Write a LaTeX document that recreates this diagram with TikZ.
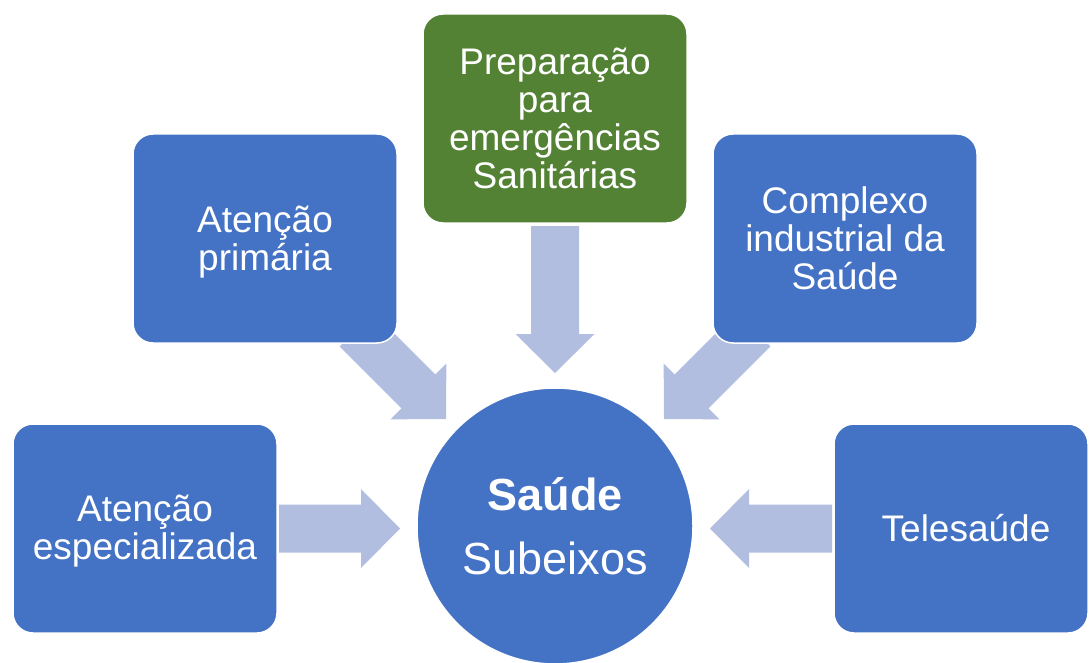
\documentclass[tikz,border=0pt]{standalone}
\usepackage{fontspec}
\setmainfont{Liberation Sans}
\usetikzlibrary{calc}
\definecolor{boxblue}{RGB}{68,114,196}
\definecolor{boxgreen}{RGB}{84,130,53}
\definecolor{arrowfill}{RGB}{177,190,224}
\tikzset{
  stagebox/.style={rectangle, rounded corners=20pt, fill=boxblue, draw=white,
    line width=1.5pt, text=white, minimum width=264pt, minimum height=209pt,
    align=center, inner sep=0pt, font=\fontsize{37}{38}\selectfont},
  hub/.style={circle, fill=boxblue, draw=white, line width=1.5pt, text=white,
    minimum size=276pt, inner sep=0pt, align=center,
    font=\fontsize{45}{64}\selectfont},
  blockarrow/.style={fill=arrowfill, draw=none}
}
\newcommand{\blockarrowpath}[2]{%
  \coordinate (hb) at ($(#2)!39pt!(#1)$);
  \fill[blockarrow] ($(#1)!24pt!90:(#2)$) -- ($(hb)!24pt!90:(#2)$)
    -- ($(hb)!39.5pt!90:(#2)$) -- (#2) -- ($(hb)!39.5pt!-90:(#2)$)
    -- ($(hb)!24pt!-90:(#2)$) -- ($(#1)!24pt!-90:(#2)$) -- cycle;
}
\begin{document}
\begin{tikzpicture}[x=1pt,y=-1pt]
\useasboundingbox (0,0) rectangle (1089,663);
% arrow ends
\coordinate (dTail) at (555,226);   \coordinate (dTip) at (555,373);
\coordinate (lTail) at (279,528.5); \coordinate (lTip) at (400,528.5);
\coordinate (rTail) at (832,528.5); \coordinate (rTip) at (710,528.5);
\coordinate (ulTail) at (356.5,329.5); \coordinate (ulTip) at (446,419);
\coordinate (urTail) at (753.5,329.5); \coordinate (urTip) at (664,419);
\blockarrowpath{dTail}{dTip}
\blockarrowpath{lTail}{lTip}
\blockarrowpath{rTail}{rTip}
\blockarrowpath{ulTail}{ulTip}
\blockarrowpath{urTail}{urTip}
% boxes
\node[stagebox] (ae) at (145,528.5) {\rule{0pt}{31pt}Atenção\\especializada};
\node[stagebox] (ap) at (265,238.5) {\rule{0pt}{34pt}Atenção\\primária};
\node[stagebox, fill=boxgreen] (pe) at (555,118.5) {Preparação\\para\\emergências\\Sanitárias};
\node[stagebox] (ci) at (845,238.5) {Complexo\\industrial da\\Saúde};
\node[stagebox, minimum width=254pt] (te) at (961,528.5) {\hspace*{10pt}Telesaúde};
\node[hub] (hub) at (555,526) {\textbf{Saúde}\\Subeixos};
\end{tikzpicture}
\end{document}
